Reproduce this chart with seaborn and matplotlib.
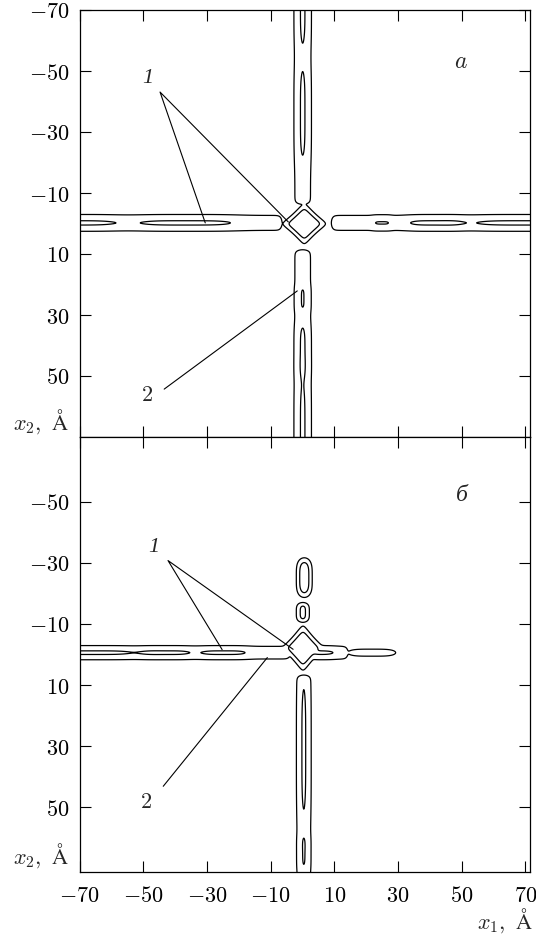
import numpy as np
import matplotlib
matplotlib.use('Agg')
import matplotlib.pyplot as plt
import seaborn as sns

sns.set_style('ticks')
plt.rcParams['mathtext.fontset'] = 'cm'
plt.rcParams['font.family'] = ['DejaVu Serif']
plt.rcParams['xtick.direction'] = 'in'
plt.rcParams['ytick.direction'] = 'in'
plt.rcParams['axes.edgecolor'] = 'black'
plt.rcParams['axes.linewidth'] = 0.9

X1_TICKS = [-70, -50, -30, -10, 10, 30, 50, 70]
X2_TICKS_A = [-70, -50, -30, -10, 10, 30, 50]
X2_TICKS_B = [-50, -30, -10, 10, 30, 50]
LEVELS = [1.0, 2.0]
BASE = 1.8   # ridge height between the inner ovals

# ---- panel a ----
a_centre = (0.6, 0.1)          # centre of the cross-shaped peak
a_core = (6.5, 6.3)            # size of its inner contour (x1, x2)
a_hline, a_vline = -0.2, 0.1   # ridge axes
a_width = 3.2
# left arm
a_left_start = 6.5
a_left_ovals = [-36.5, -72]
a_left_halves = [13.9, 12.6]
# right arm
a_right_start = 8.0
a_right_ovals = [25, 41.5, 70]
a_right_halves = [2.0, 7.5, 15]
# upper arm
a_up_start = 5.9
a_up_ovals = [-36, -72]
a_up_halves = [13.6, 12.5]
# lower arm
a_down_start = 8.0
a_down_ovals = [24.6, 41.6, 68]
a_down_halves = [2.8, 7.3, 15]

# ---- panel б ----
b_centre = (0.2, -2.1)
b_core = (6.0, 7.1)
b_hline, b_vline = -0.6, 0.45
b_width = 2.7
b_left_start = 3.5
b_left_ovals = [-66, -42.6, -24.7]
b_left_halves = [12, 6.8, 6.7]
b_right_start = 2.0
b_right_stop = 14.2
b_right_ovals = [4.0]
b_right_halves = [5.6]
b_down_start = 8.4
b_down_ovals = [31.1, 65]
b_down_halves = [19.6, 3.75]
# isolated islands (x1, x2 centre, outer half sizes, peak)
b_blob_x = [0.15, 0.6, 21.8]
b_blob_y = [-13.8, -25.2, -0.6]
b_blob_hx = [2.05, 2.5, 7.5]
b_blob_hy = [3.25, 6.5, 1.15]
b_blob_peak = [2.28, 2.8, 1.5]


def sig(t):
    return 1.0 / (1.0 + np.exp(-np.clip(t, -50, 50)))


def core(X, Y, c0, half):
    dx = np.sqrt((X - c0[0]) ** 2 + 0.8) / half[0]
    dy = np.sqrt((Y - c0[1]) ** 2 + 0.8) / half[1]
    r = (dx ** 0.8 + dy ** 0.8) ** (1 / 0.8)
    return 2 * np.exp(1 - r ** 2)


def arm(X, Y, c0, line, axis, sign, start, ovals, halves, width, stop=None):
    if axis == 'h':
        u, v, o = sign * (X - c0[0]), Y - line, c0[0]
    else:
        u, v, o = sign * (Y - c0[1]), X - line, c0[1]
    ramp = sig((u - start - 0.4) / 0.5)
    if stop is not None:
        ramp = ramp * sig((stop - u) / 0.5)
    amp = BASE
    for c, L in zip(ovals, halves):
        h = 0.3 if L > 4 else 0.23
        l = L / np.log(h / (2 - BASE)) ** 0.25
        amp = amp + h * np.exp(-((u - sign * (c - o)) / l) ** 4)
    return ramp * amp * np.exp(-(v / width) ** 2)


def blobs(X, Y, xs, ys, hx, hy, peak):
    out = []
    for cx, cy, ax_, ay_, p in zip(xs, ys, hx, hy, peak):
        k2 = np.sqrt(np.log(p))
        k4 = np.log(p) ** 0.25
        if ax_ > ay_:
            out.append(p * np.exp(-((X - cx) / (ax_ / k4)) ** 4 - ((Y - cy) / (ay_ / k2)) ** 2))
        else:
            out.append(p * np.exp(-((X - cx) / (ax_ / k2)) ** 2 - ((Y - cy) / (ay_ / k4)) ** 4))
    return out


def smooth_max(*parts, n=6):
    return sum(p ** n for p in parts) ** (1 / n)


gx = np.linspace(-72, 73, 1300)
gy = np.linspace(-73, 73, 1300)
X, Y = np.meshgrid(gx, gy)

Fa = smooth_max(
    core(X, Y, a_centre, a_core),
    arm(X, Y, a_centre, a_hline, 'h', -1, a_left_start, a_left_ovals, a_left_halves, a_width)
    + arm(X, Y, a_centre, a_hline, 'h', 1, a_right_start, a_right_ovals, a_right_halves, a_width)
    + arm(X, Y, a_centre, a_vline, 'v', -1, a_up_start, a_up_ovals, a_up_halves, a_width)
    + arm(X, Y, a_centre, a_vline, 'v', 1, a_down_start, a_down_ovals, a_down_halves, a_width))

Fb = smooth_max(
    core(X, Y, b_centre, b_core),
    arm(X, Y, b_centre, b_hline, 'h', -1, b_left_start, b_left_ovals, b_left_halves, b_width)
    + arm(X, Y, b_centre, b_hline, 'h', 1, b_right_start, b_right_ovals, b_right_halves, b_width,
          stop=b_right_stop)
    + arm(X, Y, b_centre, b_vline, 'v', 1, b_down_start, b_down_ovals, b_down_halves, b_width),
    *blobs(X, Y, b_blob_x, b_blob_y, b_blob_hx, b_blob_hy, b_blob_peak))

fig = plt.figure(figsize=(5.36, 9.38), dpi=100)
ax_a = fig.add_axes([79.5 / 536, 1 - 437 / 938, (530 - 79.5) / 536, 427 / 938])
ax_b = fig.add_axes([79.5 / 536, 1 - 872 / 938, (530 - 79.5) / 536, 435 / 938])

for ax, F, yl, yt in [(ax_a, Fa, (70, -70), X2_TICKS_A), (ax_b, Fb, (71.3, -71.3), X2_TICKS_B)]:
    ax.contour(gx, gy, F, levels=LEVELS, colors='black', linewidths=0.9)
    ax.set_xlim(-70, 71.5)
    ax.set_ylim(*yl)
    ax.set_xticks(X1_TICKS)
    ax.set_yticks(yt)
    ax.set_yticklabels([f'${v}$' for v in yt])
    ax.tick_params(axis='both', which='both', direction='in', length=8, width=0.8,
                   top=True, right=True, labelsize=16, pad=7, colors='black')
    ax.set_facecolor('white')

ax_a.set_xticklabels([])
ax_b.set_xticklabels([f'${v}$' for v in X1_TICKS])
ax_b.tick_params(axis='x', pad=9)

line_kw = dict(color='black', lw=0.8)
# panel a annotations
ax_a.text(-48.5, -47.4, '1', fontsize=16, style='italic', family='Liberation Serif', ha='center', va='center')
ax_a.plot([-30.5, -44.7, -4.4], [-0.2, -43.1, -0.5], **line_kw)
ax_a.text(-48.8, 56.2, '$2$', fontsize=16, ha='center', va='center')
ax_a.plot([-43.4, -1.6], [54.3, 22.1], **line_kw)
ax_a.text(49.7, -53, '$a$', fontsize=17, ha='center', va='center')
# panel б annotations
ax_b.text(-46.6, -35, '1', fontsize=16, style='italic', family='Liberation Serif', ha='center', va='center')
ax_b.plot([-25.2, -42.2, -2.9], [-1.6, -30.8, -1.7], **line_kw)
ax_b.text(-49.1, 48.4, '$2$', fontsize=16, ha='center', va='center')
ax_b.plot([-43.7, -11.0], [43.2, 1.0], **line_kw)
ax_b.text(50, -52, 'б', fontsize=17, style='italic', family='Liberation Serif', ha='center', va='center')

fig.text(69 / 536, 1 - 430 / 938, r'$x_2,\ \mathrm{\AA}$', fontsize=16, ha='right', va='baseline')
fig.text(69 / 536, 1 - 864 / 938, r'$x_2,\ \mathrm{\AA}$', fontsize=16, ha='right', va='baseline')
fig.text(533 / 536, 1 - 929 / 938, r'$x_1,\ \mathrm{\AA}$', fontsize=16, ha='right', va='baseline')

fig.savefig('out.png', dpi=100, facecolor='white')
